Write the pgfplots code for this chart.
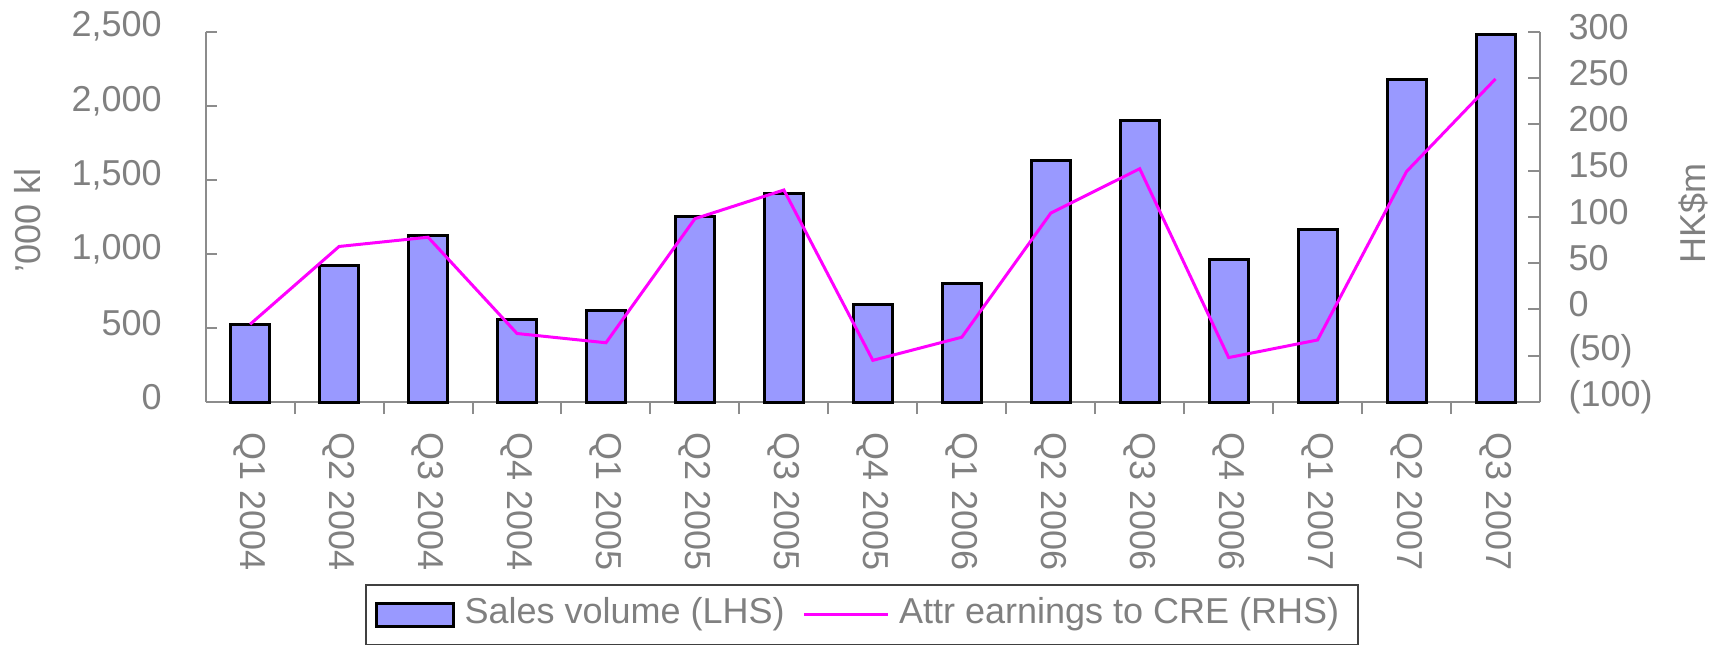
\documentclass[border=0pt]{standalone}
\usepackage{pgfplots}
\pgfplotsset{compat=1.18}
\usepackage{fontspec}
\setmainfont{Liberation Sans}
\definecolor{tgray}{RGB}{128,128,128}
\definecolor{agray}{RGB}{140,140,140}
\definecolor{barfill}{RGB}{153,153,255}
\definecolor{mag}{RGB}{255,0,255}
\newcommand{\cf}{\fontsize{10.8}{13}\selectfont}
\begin{document}
\begin{tikzpicture}
\path[use as bounding box] (-61.7pt,-73.2pt) rectangle (452.2pt,120.6pt);
\pgfplotsset{
  common/.style={
    scale only axis, width=400.3pt, height=111.1pt,
    xmin=-0.5, xmax=14.5,
    font=\cf,
    tick label style={text=tgray, font=\cf},
    label style={text=tgray, font=\cf},
    /pgf/number format/assume math mode=true,
    axis line style={agray, line width=0.6pt, -},
    major tick style={agray, line width=0.6pt},
    minor tick style={agray, line width=0.6pt},
    tick align=inside,
    major tick length=3.5pt,
    minor tick length=3.6pt,
    clip=false,
  }
}
\begin{axis}[common,
  axis y line*=left, axis x line*=bottom,
  ybar, bar width=11.7pt,
  ymin=0, ymax=2500,
  ytick={0,500,1000,1500,2000,2500},
  yticklabels={0,500,{1,000},{1,500},{2,000},{2,500}},
  yticklabel style={anchor=east, inner sep=0pt, xshift=-13pt, yshift=1.5pt},
  xtick={0,...,14},
  xticklabels={Q1 2004,Q2 2004,Q3 2004,Q4 2004,Q1 2005,Q2 2005,Q3 2005,Q4 2005,Q1 2006,Q2 2006,Q3 2006,Q4 2006,Q1 2007,Q2 2007,Q3 2007},
  xticklabel style={inner sep=0pt, anchor=west, yshift=-5.5pt, rotate=-90},
  major x tick style={draw=none},
  minor xtick={0.5,1.5,...,13.5},
  ylabel={'000 kl},
  every axis y label/.style={at={(axis description cs:-0.1331,0.49)}, anchor=center, rotate=90, text=tgray, font=\cf},
]
\addplot[fill=barfill, draw=black, line width=0.9pt] coordinates {
(0,520) (1,920) (2,1125) (3,560) (4,620) (5,1250) (6,1410) (7,660)
(8,800) (9,1630) (10,1900) (11,965) (12,1165) (13,2175) (14,2480)};
\end{axis}
\begin{axis}[common,
  axis y line*=right, axis x line=none,
  xtick=\empty,
  ymin=-100, ymax=300,
  ytick={-100,-50,0,50,100,150,200,250,300},
  yticklabels={(100),(50),0,50,100,150,200,250,300},
  yticklabel style={anchor=west, inner sep=0pt, xshift=8.4pt, yshift=1.5pt},
  ylabel={HK\$m},
  every axis y label/.style={at={(axis description cs:1.1147,0.51)}, anchor=center, rotate=90, text=tgray, font=\cf},
  legend columns=2,
  legend style={at={(axis description cs:0.4919,-0.4915)}, anchor=north,
    draw=black!75, line width=0.5pt, inner xsep=2.7pt, inner ysep=3.7pt,
    text=tgray, font=\cf,
    /tikz/every even column/.append style={column sep=2.4pt},
    nodes={inner xsep=3pt, inner ysep=0pt, text height=8pt, text depth=2.5pt}},
]
\addlegendimage{legend image code/.code={\draw[fill=barfill,draw=black,line width=0.9pt] (0pt,-3.4pt) rectangle (23pt,3.4pt);}}
\addlegendentry{Sales volume (LHS)}
\addplot[mag, line width=0.9pt, legend image code/.code={\draw[mag,line width=0.9pt] (0pt,0pt) -- (25pt,0pt);}] coordinates {
(0,-16) (1,68) (2,78) (3,-26) (4,-36) (5,98) (6,129) (7,-55)
(8,-30) (9,104) (10,152) (11,-52) (12,-33) (13,149) (14,249)};
\addlegendentry{Attr earnings to CRE (RHS)}
\end{axis}
\end{tikzpicture}
\end{document}
